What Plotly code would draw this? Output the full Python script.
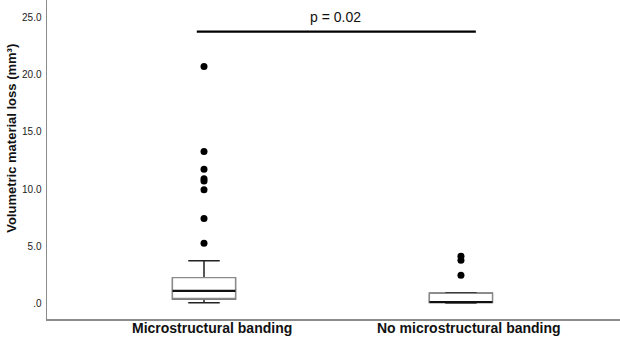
import plotly.graph_objects as go

# ---- data ----
categories = ["Microstructural banding", "No microstructural banding"]
cat_pos = [0, 1]
q1 = [0.41, 0.13]
median = [1.15, 0.17]
q3 = [2.29, 0.93]
lower_fence = [0.10, 0.08]
upper_fence = [3.77, 0.97]
outliers = [
    [20.7, 13.3, 11.75, 10.92, 10.72, 9.95, 7.45, 5.3],
    [4.15, 3.82, 2.5],
]
y_tickvals = [0, 5, 10, 15, 20, 25]
y_ticktext = [".0", "5.0", "10.0", "15.0", "20.0", "25.0"]
sig_x = [-0.028, 1.058]
sig_y = [23.74, 23.74]
sig_label = "p = 0.02"
sig_label_pos = (0.51, 25.0)
y_title = "Volumetric material loss (mm³)"

FONT = "Arial, Liberation Sans, sans-serif"
BOXW = 0.245

fig = go.Figure()

# whiskers (dark)
fig.add_trace(go.Box(
    x=cat_pos, q1=q1, median=median, q3=q3,
    lowerfence=lower_fence, upperfence=upper_fence,
    width=BOXW, whiskerwidth=0.5,
    line=dict(color="#222222", width=1.5), fillcolor="white",
    boxpoints=False, hoverinfo="skip", showlegend=False))
# box body (grey outline)
fig.add_trace(go.Box(
    x=cat_pos, q1=q1, median=q1, q3=q3,
    lowerfence=q1, upperfence=q3,
    width=BOXW, whiskerwidth=0,
    line=dict(color="#8a8a8a", width=1.2), fillcolor="white",
    boxpoints=False, hoverinfo="skip", showlegend=False))
# median (thick black)
fig.add_trace(go.Box(
    x=cat_pos, q1=median, median=median, q3=median,
    lowerfence=median, upperfence=median,
    width=BOXW, whiskerwidth=0,
    line=dict(color="#111111", width=2.2), fillcolor="rgba(0,0,0,0)",
    boxpoints=False, hoverinfo="skip", showlegend=False))

# outliers
for p, vals in zip(cat_pos, outliers):
    fig.add_trace(go.Scatter(
        x=[p] * len(vals), y=vals, mode="markers",
        marker=dict(color="black", size=7),
        showlegend=False, hoverinfo="skip"))

# significance bar
fig.add_trace(go.Scatter(
    x=sig_x, y=sig_y, mode="lines",
    line=dict(color="black", width=2.2),
    showlegend=False, hoverinfo="skip"))

fig.add_annotation(x=sig_label_pos[0], y=sig_label_pos[1], xref="x", yref="y",
                   text=sig_label, showarrow=False,
                   font=dict(family=FONT, size=14, color="#111111"))

# category labels
for p, c in zip(cat_pos, categories):
    fig.add_annotation(x=p, y=0, xref="x", yref="paper", text="<b>%s</b>" % c,
                       showarrow=False, yanchor="middle", yshift=-9, xshift=8,
                       font=dict(family=FONT, size=14, color="#111111"))

# y title
fig.add_annotation(x=0, y=14.4, xref="paper", yref="y", text="<b>%s</b>" % y_title,
                   textangle=-90, showarrow=False, xanchor="center", yanchor="middle",
                   xshift=-35,
                   font=dict(family=FONT, size=13, color="#111111"))

fig.update_layout(
    width=620, height=342,
    margin=dict(l=47, r=0, t=0, b=23),
    paper_bgcolor="white", plot_bgcolor="white",
    boxmode="overlay",
    showlegend=False,
    xaxis=dict(range=[-0.611, 1.619], showgrid=False, zeroline=False,
               showticklabels=False, ticks="",
               showline=True, linecolor="#8c8c8c", linewidth=1.5),
    yaxis=dict(range=[-1.31, 26.5], showgrid=False, zeroline=False,
               tickvals=y_tickvals, ticktext=y_ticktext,
               ticks="outside", ticklen=2, tickcolor="rgba(0,0,0,0)",
               tickfont=dict(family=FONT, size=10, color="#222222"),
               showline=True, linecolor="#8c8c8c", linewidth=1.5),
)
fig.update_yaxes(tickprefix="<b>", ticksuffix="</b>")

fig.write_html("out.html",
               config={"displayModeBar": False, "staticPlot": True},
               post_script="document.body.style.margin='0';document.body.style.overflow='hidden';")
